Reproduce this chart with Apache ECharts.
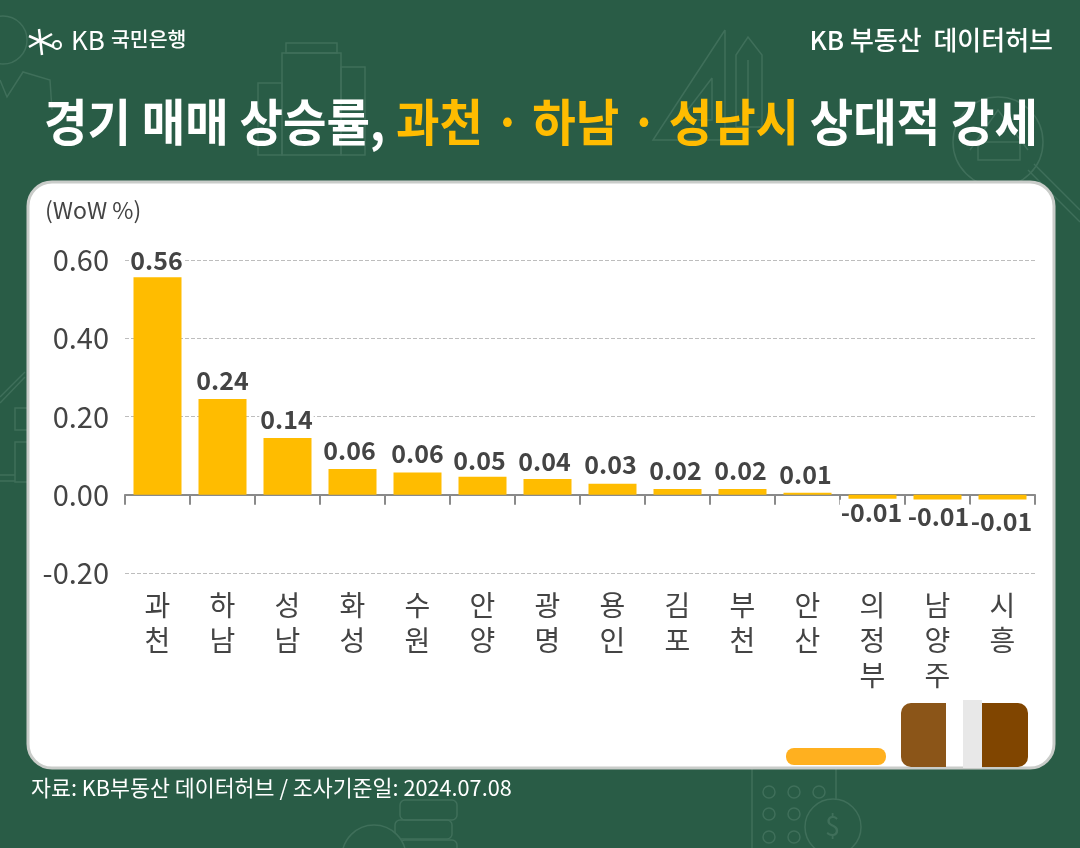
<!DOCTYPE html>
<html>
<head>
<meta charset="utf-8">
<style>
  html, body { margin: 0; padding: 0; background: #295c46; }
  #chart { width: 1080px; height: 848px; }
</style>
<script src="https://cdn.jsdelivr.net/npm/echarts@6/dist/echarts.min.js"></script>
</head>
<body>
<div id="chart"></div>
<script>
var FONT = '"Noto Sans CJK KR", "Noto Sans", sans-serif';
var cities = ['과천','하남','성남','화성','수원','안양','광명','용인','김포','부천','안산','의정부','남양주','시흥'];
// bar height, label as printed
var values = [0.556,0.245,0.145,0.066,0.057,0.046,0.04,0.028,0.015,0.015,0.005,-0.01,-0.012,-0.012];
var labels = ['0.56','0.24','0.14','0.06','0.06','0.05','0.04','0.03','0.02','0.02','0.01','-0.01','-0.01','-0.01'];
var labelOffset = {
  0: [-1, 2], 2: [-1, 0], 3: [-3, 0], 5: [-3, 2], 6: [-3, 1], 7: [-2, -1],
  8: [-2, 0], 9: [-2, 0], 10: [-2, 0], 11: [-1, -1], 12: [1, 3], 13: [-1, 8]
};

var chart = echarts.init(document.getElementById('chart'), null, { renderer: 'canvas' });

var decor = '#3f6f5a';
function line(points) {
  return { type: 'polyline', z: -5, shape: { points: points }, style: { stroke: decor, lineWidth: 1.5, fill: null } };
}
function box(x, y, w, h, r) {
  return { type: 'rect', z: -5, shape: { x: x, y: y, width: w, height: h, r: r || 0 }, style: { stroke: decor, lineWidth: 1.5, fill: null } };
}
function ring(cx, cy, r) {
  return { type: 'circle', z: -5, shape: { cx: cx, cy: cy, r: r }, style: { stroke: decor, lineWidth: 1.5, fill: null } };
}

var option = {
  backgroundColor: '#295c46',
  animation: false,
  textStyle: { fontFamily: FONT },
  grid: { left: 125, right: 45, top: 260, height: 313 },
  xAxis: {
    type: 'category',
    data: cities,
    axisLine: { show: true, lineStyle: { color: '#8a8a8a', width: 2 } },
    axisTick: { show: true, length: 10, lineStyle: { color: '#8a8a8a', width: 2 } },
    axisLabel: {
      interval: 0,
      margin: 15,
      color: '#444444',
      fontSize: 28,
      lineHeight: 35,
      verticalAlign: 'top',
      formatter: function (v) { return v.split('').join('\n'); }
    }
  },
  yAxis: {
    type: 'value',
    min: -0.2,
    max: 0.6,
    interval: 0.2,
    axisLine: { show: false },
    axisTick: { show: false },
    axisLabel: {
      margin: 16,
      color: '#444444',
      fontSize: 29,
      formatter: function (v) { return v.toFixed(2); }
    },
    splitLine: { lineStyle: { color: '#bdbdbd', type: 'dashed', width: 1 } }
  },
  series: [{
    type: 'bar',
    barWidth: 48,
    itemStyle: { color: '#ffbc00' },
    data: values.map(function (v, i) {
      var neg = v < 0;
      return {
        value: v,
        label: {
          show: true,
          position: neg ? 'bottom' : 'top',
          distance: neg ? 2 : 8,
          offset: labelOffset[i] || [0, 0],
          formatter: labels[i],
          color: '#444444',
          fontSize: 25,
          fontWeight: 700,
          fontFamily: FONT,
          backgroundColor: '#ffffff',
          padding: [0, 1, -2, 1]
        }
      };
    })
  }],
  graphic: [
    // faint line drawings behind the card
    ring(3, 40, 24),
    line([[0, 80], [7, 97], [23, 72], [50, 80], [52, 110]]),
    box(286, 43, 51, 10), box(282, 53, 59, 102), box(341, 67, 24, 88), box(258, 83, 24, 72),
    line([[725, 30], [653, 140], [725, 140], [725, 30]]),
    line([[712, 78], [680, 120], [712, 120], [712, 78]]),
    line([[736, 127], [736, 55], [748, 37], [762, 55], [762, 127], [736, 127]]),
    line([[748, 60], [748, 127]]),
    ring(998, 142, 45),
    box(978, 142, 42, 18),
    line([[970, 150], [998, 110], [1028, 150]]),
    line([[1028, 170], [1080, 222]]),
    line([[1034, 164], [1080, 210]]),
    line([[0, 397], [25, 372]]),
    line([[0, 403], [25, 377]]),
    box(15, 408, 14, 22), box(15, 442, 14, 40),
    line([[0, 475], [15, 475]]),
    line([[0, 481], [15, 481]]),
    box(752, 760, 84, 100),
    ring(769, 792, 6), ring(794, 792, 6), ring(819, 792, 6),
    ring(769, 814, 6), ring(794, 814, 6), ring(769, 837, 6), ring(794, 837, 6),
    { type: 'circle', z: -5, shape: { cx: 833, cy: 827, r: 28 }, style: { stroke: decor, lineWidth: 1.5, fill: '#295c46' } },
    { type: 'text', z: -5, x: 825, y: 812, style: { text: '$', fill: decor, font: '400 27px ' + FONT } },
    box(400, 800, 57, 20, 5), box(395, 820, 57, 19, 5), box(400, 840, 57, 20, 5),
    { type: 'circle', z: -5, shape: { cx: 374, cy: 857, r: 32 }, style: { stroke: decor, lineWidth: 1.5, fill: '#295c46' } },

    // card
    {
      type: 'rect', z: -4,
      shape: { x: 28, y: 182, width: 1026, height: 586, r: 24 },
      style: { fill: '#ffffff', stroke: '#c9ccc9', lineWidth: 3 }
    },

    // headline, squeezed a little like the original lettering
    {
      type: 'text', z: 5, x: 541, y: 122, scaleX: 0.945, originX: 0, originY: 0,
      style: {
        text: '{w|경기 매매 상승률, }{y|과천 · 하남 · 성남시}{w| 상대적 강세}',
        align: 'center',
        verticalAlign: 'middle',
        rich: {
          w: { fill: '#ffffff', fontSize: 50, fontWeight: 700, fontFamily: FONT },
          y: { fill: '#ffbc00', fontSize: 50, fontWeight: 700, fontFamily: FONT }
        }
      }
    },

    // header
    {
      type: 'group', z: 5, children: [
        { type: 'line', shape: { x1: 29, y1: 36, x2: 54, y2: 47 }, style: { stroke: '#fff', lineWidth: 2.5 } },
        { type: 'line', shape: { x1: 29, y1: 47, x2: 52, y2: 34 }, style: { stroke: '#fff', lineWidth: 2.5 } },
        { type: 'line', shape: { x1: 39, y1: 29, x2: 42, y2: 55 }, style: { stroke: '#fff', lineWidth: 2.5 } },
        { type: 'circle', shape: { cx: 57, cy: 45, r: 4 }, style: { stroke: '#fff', lineWidth: 2, fill: null } }
      ]
    },
    { type: 'text', z: 5, left: 71, top: 27, style: { text: 'KB', fill: '#ffffff', font: '400 26px ' + FONT } },
    { type: 'text', z: 5, left: 111, top: 29, style: { text: '국민은행', fill: '#ffffff', font: '500 20.5px ' + FONT } },
    { type: 'text', z: 5, right: 27, top: 27, style: { text: 'KB 부동산  데이터허브', fill: '#ffffff', font: '500 26px ' + FONT } },

    // unit + source
    { type: 'text', z: 5, left: 45, top: 199, style: { text: '(WoW %)', fill: '#444444', font: '400 23px ' + FONT } },
    { type: 'text', z: 5, left: 31, top: 777, style: { text: '자료: KB부동산 데이터허브 / 조사기준일: 2024.07.08', fill: '#ffffff', font: '400 21.7px ' + FONT } },

    // cropped blocks at the bottom of the card
    { type: 'rect', z: 5, shape: { x: 786, y: 748, width: 100, height: 17, r: 8 }, style: { fill: '#ffb01f' } },
    { type: 'rect', z: 5, shape: { x: 901, y: 703, width: 45, height: 64, r: [10, 0, 0, 10] }, style: { fill: '#8b5518' } },
    { type: 'rect', z: 5, shape: { x: 963, y: 700, width: 19, height: 68 }, style: { fill: '#e8e8e8' } },
    { type: 'rect', z: 5, shape: { x: 982, y: 703, width: 46, height: 64, r: [0, 10, 10, 0] }, style: { fill: '#804500' } }
  ]
};

chart.setOption(option);
</script>
</body>
</html>
